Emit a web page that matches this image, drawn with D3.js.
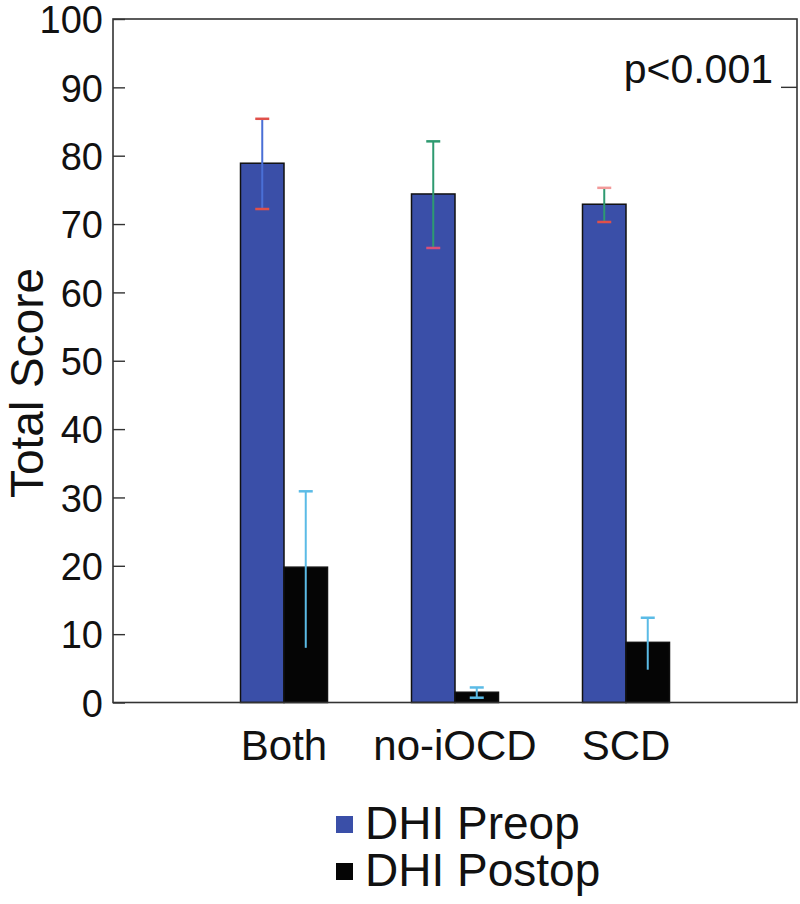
<!DOCTYPE html>
<html><head><meta charset="utf-8">
<script src="https://cdn.jsdelivr.net/npm/d3@7"></script>
<style>body{margin:0;background:#fff}svg{display:block}text{font-family:"Liberation Sans",Arial,sans-serif;fill:#111}</style>
</head><body><svg id="c" width="800" height="904"></svg>
<script>
const categories = ["Both", "no-iOCD", "SCD"];
const series = ["DHI Preop", "DHI Postop"];
const preopMean = [78.9, 74.4, 72.9];
const preopHigh = [85.4, 82.1, 75.3];
const preopLow = [72.2, 66.5, 70.3];
const postopMean = [19.8, 1.5, 8.8];
const postopHigh = [30.9, 2.2, 12.4];
const postopLow = [8.0, 0.7, 4.8];
const yTicks = [0, 10, 20, 30, 40, 50, 60, 70, 80, 90, 100];
const pLabel = "p<0.001";

const svg = d3.select("#c");
const L = 113, R = 797, T = 19, B = 702.5;
const y = d3.scaleLinear().domain([0, 100]).range([B, T]);
const x = d3.scaleBand().domain(categories).range([L, R]).paddingOuter(0.5).paddingInner(0);
const xs = d3.scaleBand().domain(series).range([-43.5, 43.5]);
const fill = {"DHI Preop": "#3A4FA8", "DHI Postop": "#050505"};

// bars
const rows = [];
categories.forEach((c, i) => {
  rows.push({c, s: series[0], v: preopMean[i], hi: preopHigh[i], lo: preopLow[i]});
  rows.push({c, s: series[1], v: postopMean[i], hi: postopHigh[i], lo: postopLow[i]});
});
svg.append("g").selectAll("rect").data(rows).join("rect")
  .attr("x", d => x(d.c) + x.bandwidth()/2 + xs(d.s))
  .attr("y", d => y(d.v))
  .attr("width", xs.bandwidth())
  .attr("height", d => y(0) - y(d.v))
  .attr("fill", d => fill[d.s])
  .attr("stroke", "#111").attr("stroke-width", 1.5);

// error bars
const ebStyle = [
  {line: "#4A6FD6", top: "#E0504A", bot: "#E0504A", botCap: true},
  {line: "#2E9A70", top: "#2E9A70", bot: "#D8507A", botCap: true},
  {line: "#2E9A70", top: "#F29A9A", bot: "#E0504A", botCap: true}
];
const ebPost = [
  {line: "#5BBBE6", top: "#5BBBE6", bot: "#5BBBE6", botCap: false},
  {line: "#5BBBE6", top: "#5BBBE6", bot: "#5BBBE6", botCap: true},
  {line: "#5BBBE6", top: "#5BBBE6", bot: "#5BBBE6", botCap: false}
];
const eg = svg.append("g");
rows.forEach((d, k) => {
  const i = Math.floor(k/2);
  const st = d.s === series[0] ? ebStyle[i] : ebPost[i];
  const cx = x(d.c) + x.bandwidth()/2 + xs(d.s) + xs.bandwidth()/2;
  eg.append("line").attr("x1", cx).attr("x2", cx).attr("y1", y(d.hi)).attr("y2", y(d.lo))
    .attr("stroke", st.line).attr("stroke-width", 2);
  eg.append("line").attr("x1", cx-7).attr("x2", cx+7).attr("y1", y(d.hi)).attr("y2", y(d.hi))
    .attr("stroke", st.top).attr("stroke-width", 2.5);
  if (st.botCap) eg.append("line").attr("x1", cx-7).attr("x2", cx+7).attr("y1", y(d.lo)).attr("y2", y(d.lo))
    .attr("stroke", st.bot).attr("stroke-width", 2.5);
});

// frame
svg.append("rect").attr("x", L).attr("y", T).attr("width", R-L).attr("height", B-T)
  .attr("fill", "none").attr("stroke", "#333").attr("stroke-width", 1.6);

// y axis
const ya = svg.append("g").attr("transform", `translate(${L},0)`)
  .call(d3.axisRight(y).tickValues(yTicks).tickSize(12).tickFormat(d3.format("d")));
ya.select(".domain").remove();
ya.selectAll(".tick line").attr("stroke", "#333").attr("stroke-width", 1.4);
ya.selectAll(".tick text").attr("x", -10).attr("text-anchor", "end").attr("dy", "0.36em")
  .style("font-size", "38px").style("font-family", "'Liberation Sans',Arial,sans-serif").attr("fill", "#111");

// right tick
svg.append("line").attr("x1", R-16).attr("x2", R).attr("y1", y(90)).attr("y2", y(90))
  .attr("stroke", "#333").attr("stroke-width", 1.4);

// x labels
const xa = svg.append("g").attr("transform", `translate(0,${B})`)
  .call(d3.axisBottom(x).tickSize(0).tickPadding(0));
xa.select(".domain").remove();
xa.selectAll(".tick text").attr("y", 57).attr("dy", 0)
  .style("font-size", "42px").style("font-family", "'Liberation Sans',Arial,sans-serif").attr("fill", "#111");

// y label
svg.append("text").attr("transform", "translate(43,383) rotate(-90)")
  .attr("text-anchor", "middle").style("font-size", "46px").text("Total Score");

// p label
svg.append("text").attr("x", 773).attr("y", 83).attr("text-anchor", "end")
  .style("font-size", "41px").text(pLabel);

// legend
const lg = svg.append("g");
series.forEach((s, i) => {
  lg.append("rect").attr("x", 336).attr("y", 816 + i*47).attr("width", 17).attr("height", 17)
    .attr("fill", fill[s]);
  lg.append("text").attr("x", 365).attr("y", 839 + i*47).style("font-size", "46px").text(s);
});
</script></body></html>
